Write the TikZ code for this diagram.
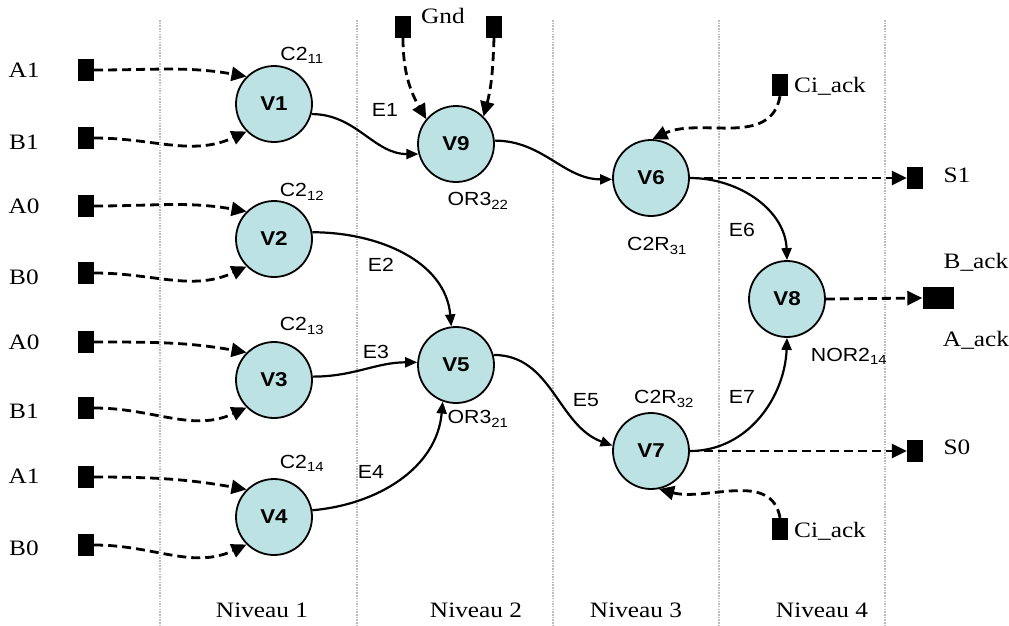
\documentclass[tikz,border=0pt]{standalone}
\usepackage{fontspec}
\setmainfont[FakeStretch=1.15]{Liberation Serif}
\setsansfont[FakeStretch=1.12]{Liberation Sans}
\usetikzlibrary{arrows.meta}
\definecolor{vfill}{HTML}{BCE2E3}
\definecolor{gridc}{HTML}{BDBDBD}
\tikzset{
  vtx/.style={circle,draw=black,line width=1.8pt,fill=vfill,minimum size=76pt,inner sep=0pt,
    font=\sffamily\bfseries\fontsize{20}{22}\selectfont},
  sq/.style={fill=black,minimum width=16pt,minimum height=22pt,inner sep=0pt},
  din/.style={line width=2.8pt,dash pattern=on 9pt off 5pt,-{Triangle[length=15pt,width=14pt]}},
  edg/.style={line width=2.2pt,-{Triangle[length=12pt,width=10pt]}},
  slab/.style={font=\fontsize{22}{24}\selectfont,inner sep=0pt},
  glab/.style={font=\sffamily\fontsize{19}{21}\selectfont,inner sep=0pt},
  grid/.style={gridc,line width=2.2pt,dash pattern=on 1.5pt off 1.2pt},
}
\begin{document}
\begin{tikzpicture}[x=1pt,y=1pt]
\useasboundingbox (0,0) rectangle (1009,-625);
% level separators
\foreach \xx/\nm in {160/g1,357/g2,553/g3,719/g4,885/g5}{
  \coordinate (\nm t) at (\xx,-20);
  \coordinate (\nm b) at (\xx,-625);
  \draw[grid] (\nm t) -- (\nm b);
}
% gates
\node[vtx] (V1) at (274,-104) {V1};
\node[vtx] (V2) at (274,-239) {V2};
\node[vtx] (V3) at (274,-380) {V3};
\node[vtx] (V4) at (274,-517) {V4};
\node[vtx] (V9) at (456,-144) {V9};
\node[vtx] (V5) at (456,-365) {V5};
\node[vtx] (V6) at (651,-178) {V6};
\node[vtx] (V7) at (651,-451) {V7};
\node[vtx] (V8) at (787,-299) {V8};
% gate labels
\node[glab] (l1) at (302,-55) {C2\textsubscript{11}};
\node[glab] (l2) at (302,-192) {C2\textsubscript{12}};
\node[glab] (l3) at (302,-326) {C2\textsubscript{13}};
\node[glab] (l4) at (302,-463) {C2\textsubscript{14}};
\node[glab] (l9) at (478,-201) {OR3\textsubscript{22}};
\node[glab] (l5) at (478,-419) {OR3\textsubscript{21}};
\node[glab] (l6) at (657,-246) {C2R\textsubscript{31}};
\node[glab] (l7) at (664,-399) {C2R\textsubscript{32}};
\node[glab] (l8) at (849,-356) {NOR2\textsubscript{14}};
% edge labels
\node[glab] (e1) at (385,-110) {E1};
\node[glab] (e2) at (381,-265) {E2};
\node[glab] (e3) at (376,-352) {E3};
\node[glab] (e4) at (371,-472) {E4};
\node[glab] (e5) at (586,-400) {E5};
\node[glab] (e6) at (742,-230) {E6};
\node[glab] (e7) at (742,-397) {E7};
% inputs
\node[sq] (a1) at (86,-70) {};
\node[sq] (b1) at (86,-138) {};
\node[sq] (a0) at (86,-206) {};
\node[sq] (b0) at (86,-273) {};
\node[sq] (a0b) at (86,-342) {};
\node[sq] (b1b) at (86,-408) {};
\node[sq] (a1b) at (86,-477) {};
\node[sq] (b0b) at (86,-545) {};
\node[slab] (ta1) at (24,-70) {A1};
\node[slab] (tb1) at (24,-142) {B1};
\node[slab] (ta0) at (24,-206) {A0};
\node[slab] (tb0) at (24,-277) {B0};
\node[slab] (ta0b) at (24,-342) {A0};
\node[slab] (tb1b) at (24,-411) {B1};
\node[slab] (ta1b) at (24,-476) {A1};
\node[slab] (tb0b) at (24,-548) {B0};
% gnd
\node[sq] (gnda) at (403,-27) {};
\node[sq] (gndb) at (494,-27) {};
\node[slab] (tgnd) at (443,-16) {Gnd};
% ci_ack
\node[sq] (cia) at (780,-85) {};
\node[slab,anchor=west] (tcia) at (794,-86) {Ci\_ack};
\node[sq] (cib) at (780,-529) {};
\node[slab,anchor=west] (tcib) at (794,-531) {Ci\_ack};
% outputs
\node[sq] (s1) at (915,-178) {};
\node[slab] (ts1) at (957,-175) {S1};
\node[fill=black,minimum width=31pt,minimum height=22pt,inner sep=0pt] (ack) at (938,-298) {};
\node[slab] (tback) at (976,-262) {B\_ack};
\node[slab] (taack) at (976,-340) {A\_ack};
\node[sq] (s0) at (915,-451) {};
\node[slab] (ts0) at (957,-447) {S0};
% level labels
\node[slab] (n1) at (262,-610) {Niveau 1};
\node[slab] (n2) at (476,-610) {Niveau 2};
\node[slab] (n3) at (636,-610) {Niveau 3};
\node[slab] (n4) at (822,-610) {Niveau 4};
% dashed input arrows
\foreach \s/\v in {a1/V1,a0/V2,a0b/V3,a1b/V4}{
  \draw[din] (\s.east) to[out=0,in=170] (\v.135);
}
\foreach \s/\v in {b1/V1,b0/V2,b1b/V3,b0b/V4}{
  \draw[din] (\s.east) to[out=0,in=205] (\v.225);
}
\draw[din] (gnda.south) to[out=-90,in=120] (V9.140);
\draw[din] (gndb.south) to[out=-92,in=75] (V9.45);
\draw[din] (cia.south) to[out=-100,in=25] (V6.88);
\draw[din] (cib.north) to[out=100,in=-15] (V7.-78);
% dashed outputs
\draw[din] (V6.east) -- (s1.west);
\draw[din] (V8.east) -- (ack.west);
\draw[din] (V7.east) -- (s0.west);
% solid edges
\draw[edg] (V1.-15) to[out=0,in=180] (V9.195);
\draw[edg] (V9.5) to[out=0,in=180] (V6.182);
\draw[edg] (V2.10) to[out=0,in=95] (V5.97);
\draw[edg] (V3.5) to[out=0,in=180] (V5.176);
\draw[edg] (V4.10) to[out=5,in=-95] (V5.-110);
\draw[edg] (V5.15) to[out=0,in=160] (V7.172);
\draw[edg] (V6.east) to[out=0,in=92] (V8.north);
\draw[edg] (V7.east) to[out=0,in=-92] (V8.south);
\end{tikzpicture}
\end{document}
